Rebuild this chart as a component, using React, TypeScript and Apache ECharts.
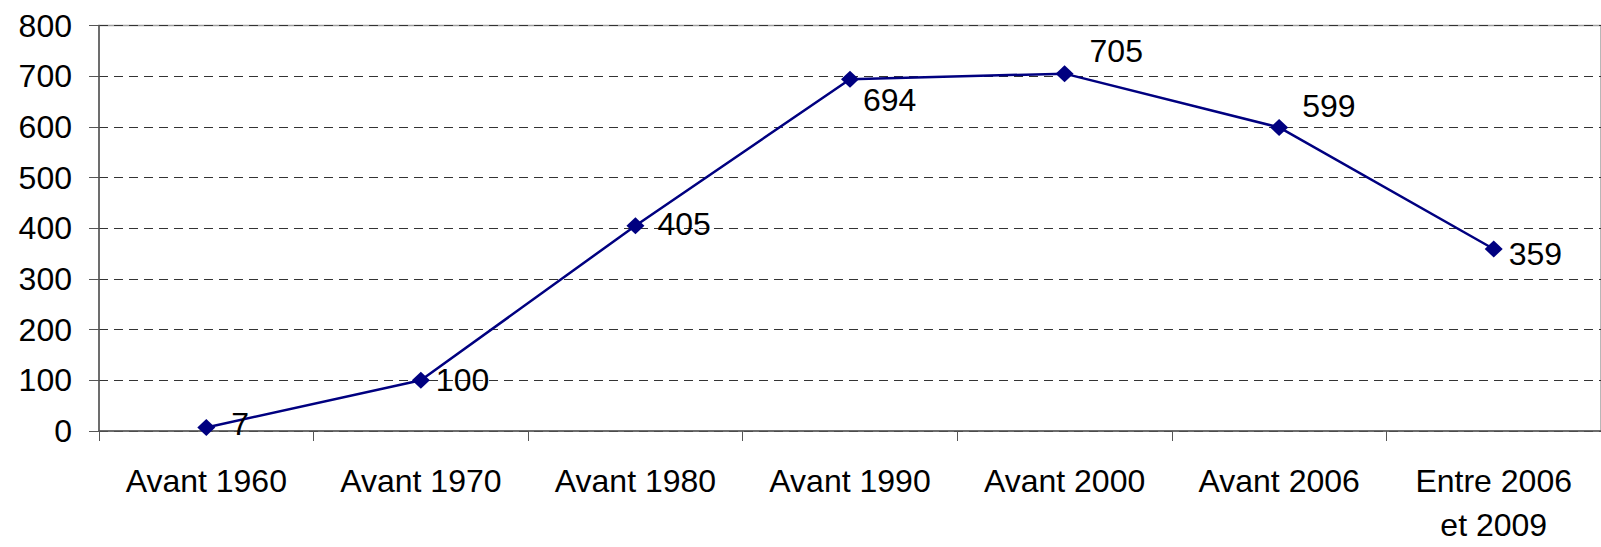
import React, { useEffect, useRef } from "react";
import * as echarts from "echarts";

const categories = [
  "Avant 1960",
  "Avant 1970",
  "Avant 1980",
  "Avant 1990",
  "Avant 2000",
  "Avant 2006",
  "Entre 2006\net 2009",
];
const values = [7, 100, 405, 694, 705, 599, 359];
const yTicks = { min: 0, max: 800, interval: 100 };

export default function App() {
  const ref = useRef<HTMLDivElement>(null);
  useEffect(() => {
    if (!ref.current) return;
    const chart = echarts.init(ref.current, null, { renderer: "svg" });
    const labelOffsets: [number, number][] = [
      [16, -3],
      [6, 0],
      [13, -2],
      [4, 21],
      [16, -23],
      [14, -21],
      [6, 5],
    ];
    const font = "'Liberation Sans', Arial, sans-serif";
    chart.setOption({
      animation: false,
      backgroundColor: "#ffffff",
      grid: {
        left: 99,
        top: 25.5,
        right: -8,
        bottom: 112.5,
        containLabel: false,
        show: true,
        borderColor: "#a0a0a0",
        borderWidth: 1.5,
        backgroundColor: "transparent",
      },
      xAxis: {
        type: "category",
        data: categories,
        boundaryGap: true,
        axisLine: { show: true, lineStyle: { color: "#555555", width: 1.5 } },
        axisTick: { show: true, length: 10, lineStyle: { color: "#555555", width: 1 } },
        axisLabel: {
          color: "#000000",
          fontFamily: font,
          fontSize: 32,
          lineHeight: 44,
          margin: 28,
          interval: 0,
        },
        splitLine: { show: false },
      },
      yAxis: {
        type: "value",
        min: yTicks.min,
        max: yTicks.max,
        interval: yTicks.interval,
        axisLine: { show: true, lineStyle: { color: "#555555", width: 1.5 } },
        axisTick: { show: true, length: 10, lineStyle: { color: "#555555", width: 1 } },
        axisLabel: {
          color: "#000000",
          fontFamily: font,
          fontSize: 32,
          margin: 27,
        },
        splitLine: {
          show: true,
          lineStyle: { color: "#333333", type: [9, 6], width: 1 },
        },
      },
      series: [
        {
          type: "line",
          data: values.map((v, i) => ({
            value: v,
            label: {
              show: true,
              position: "right",
              distance: 0,
              offset: labelOffsets[i],
            },
          })),
          symbol: "diamond",
          symbolSize: [18, 17],
          lineStyle: { color: "#000080", width: 2.5 },
          itemStyle: { color: "#000080" },
          label: {
            show: true,
            color: "#000000",
            fontFamily: font,
            fontSize: 32,
          },
          z: 5,
        },
      ],
    });
    return () => chart.dispose();
  }, []);
  return (
    <div
      ref={ref}
      style={{ position: "absolute", left: 0, top: 0, width: 1601, height: 547 }}
    />
  );
}
